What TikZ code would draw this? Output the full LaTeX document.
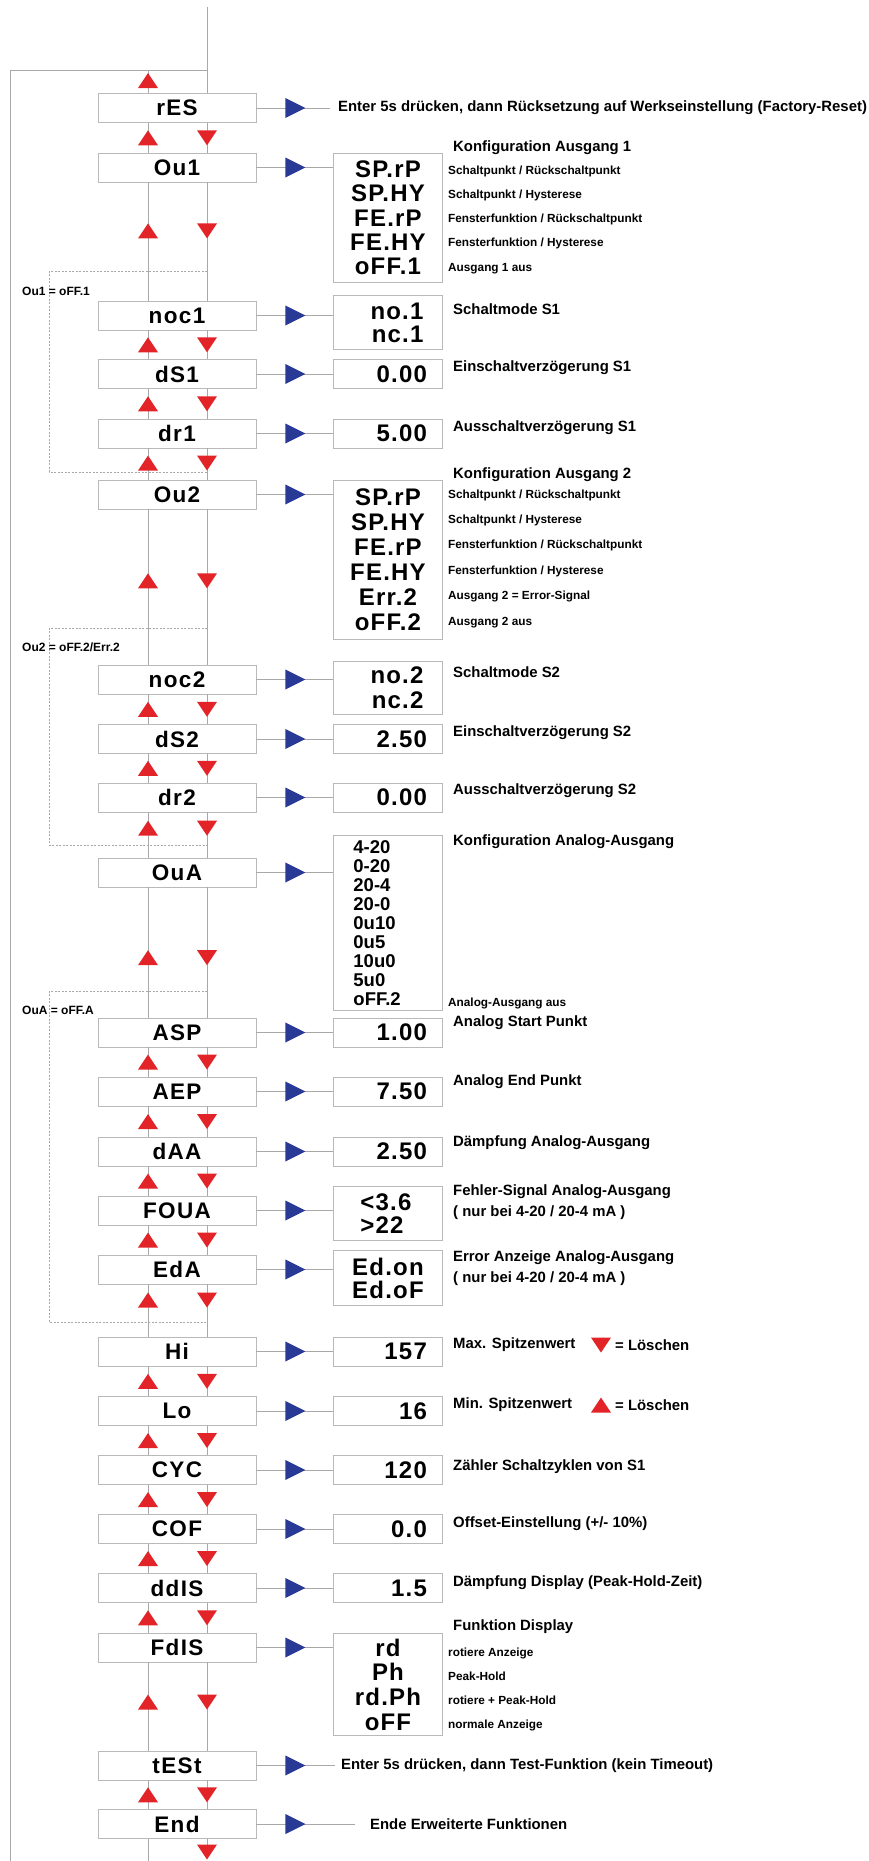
\documentclass[tikz,border=0pt]{standalone}
\usepackage{fontspec}
\setmainfont{Liberation Sans}
\newfontfamily\keyspaced[LetterSpace=6]{Liberation Sans}
\newfontfamily\valspaced[LetterSpace=5]{Liberation Sans}
\usetikzlibrary{positioning,calc}

\definecolor{linegray}{RGB}{168,168,168}
\definecolor{boxgray}{RGB}{185,185,185}
\definecolor{arrred}{RGB}{226,36,40}
\definecolor{arrblue}{RGB}{40,58,150}

\newcommand\keylabelfnt{\keyspaced\bfseries\fontsize{22.5}{24}\selectfont}
\newcommand\valuefnt{\valspaced\bfseries\fontsize{24}{25}\selectfont}

\begin{document}
\begin{tikzpicture}[x=1pt,y=1pt,
    wire/.style={draw=linegray,line width=0.9pt},
    bypass/.style={draw=linegray,line width=0.7pt,dash pattern=on 2pt off 1.5pt},
    key/.style={draw=boxgray,line width=0.9pt,fill=white,minimum width=158pt,
                minimum height=29pt,inner sep=0pt,font=\keylabelfnt},
    val/.style={draw=boxgray,line width=0.9pt,fill=white,minimum width=109pt,
                minimum height=29pt,inner sep=0pt,font=\valuefnt},
    num/.style={val,text width=77pt,align=right,inner xsep=16pt},
    list/.style={val,anchor=north west,align=center,font=\valuefnt\fontsize{24}{#1}\selectfont},
    head/.style={anchor=west,inner sep=0pt,align=left,font=\bfseries\fontsize{14.9}{21}\selectfont},
    note/.style={anchor=west,inner sep=0pt,align=left,font=\bfseries\fontsize{11.8}{#1}\selectfont},
    cond/.style={anchor=west,inner sep=0pt,font=\bfseries\fontsize{12}{13}\selectfont},
    pics/uptri/.style={code={\fill[arrred] (-10,-7.5) -- (10,-7.5) -- (0,7.5) -- cycle;}},
    pics/dntri/.style={code={\fill[arrred] (-10,7.5) -- (10,7.5) -- (0,-7.5) -- cycle;}},
    pics/flow/.style={code={\fill[arrblue] (-10,-10) -- (10,0) -- (-10,10) -- cycle;}}]

  \useasboundingbox (0,0) rectangle (868,-1861);

  % menu column
  \node[key] (rES)  at (177,-108)    {rES};
  \node[key] (Ou1)  at (177,-167.5)  {Ou1};
  \node[key] (noc1) at (177,-315.5)  {noc1};
  \node[key] (dS1)  at (177,-374)    {dS1};
  \node[key] (dr1)  at (177,-433.5)  {dr1};
  \node[key] (Ou2)  at (177,-494.5)  {Ou2};
  \node[key] (noc2) at (177,-679.5)  {noc2};
  \node[key] (dS2)  at (177,-739)    {dS2};
  \node[key] (dr2)  at (177,-797.5)  {dr2};
  \node[key] (OuA)  at (177,-872.5)  {OuA};
  \node[key] (ASP)  at (177,-1032.5) {ASP};
  \node[key] (AEP)  at (177,-1091.5) {AEP};
  \node[key] (dAA)  at (177,-1151.5) {dAA};
  \node[key] (FOUA) at (177,-1210.5) {FOUA};
  \node[key] (EdA)  at (177,-1269.5) {EdA};
  \node[key] (Hi)   at (177,-1351.5) {Hi};
  \node[key] (Lo)   at (177,-1411)   {Lo};
  \node[key] (CYC)  at (177,-1470)   {CYC};
  \node[key] (COF)  at (177,-1529)   {COF};
  \node[key] (ddIS) at (177,-1588)   {ddIS};
  \node[key] (FdIS) at (177,-1647.5) {FdIS};
  \node[key] (tESt) at (177,-1765.5) {tESt};
  \node[key] (End)  at (177,-1824)   {End};

  % value boxes
  \node[list=24.25, minimum height=129pt] (vOu1) at (333,-153) {SP.rP\\SP.HY\\FE.rP\\FE.HY\\oFF.1};
  \node[list=23, minimum height=54pt, text width=71pt, align=right, inner xsep=19pt] (vnoc1) at (333,-295) {no.1\\nc.1};
  \node[num, right=77pt of dS1] (vdS1) {0.00};
  \node[num, right=77pt of dr1] (vdr1) {5.00};
  \node[list=25, minimum height=159pt] (vOu2) at (333,-480) {SP.rP\\SP.HY\\FE.rP\\FE.HY\\Err.2\\oFF.2};
  \node[list=25, minimum height=53pt, text width=71pt, align=right, inner xsep=19pt] (vnoc2) at (333,-661) {no.2\\nc.2};
  \node[num, right=77pt of dS2] (vdS2) {2.50};
  \node[num, right=77pt of dr2] (vdr2) {0.00};
  \node[val, anchor=north west, minimum height=175pt, text width=69pt, inner xsep=20pt, align=left,
        font=\bfseries\fontsize{18.5}{19}\selectfont] (vOuA) at (333,-835)
        {4-20\\0-20\\20-4\\20-0\\0u10\\0u5\\10u0\\5u0\\oFF.2};
  \node[num, right=77pt of ASP] (vASP) {1.00};
  \node[num, right=77pt of AEP] (vAEP) {7.50};
  \node[num, right=77pt of dAA] (vdAA) {2.50};
  \node[list=23, minimum height=54pt, text width=55pt, align=left, inner xsep=27pt] (vFOUA) at (333,-1186) {<3.6\\>22};
  \node[list=23, minimum height=55pt] (vEdA) at (333,-1250) {Ed.on\\Ed.oF};
  \node[num, right=77pt of Hi]   (vHi)   {157};
  \node[num, right=77pt of Lo]   (vLo)   {16};
  \node[num, right=77pt of CYC]  (vCYC)  {120};
  \node[num, right=77pt of COF]  (vCOF)  {0.0};
  \node[num, right=77pt of ddIS] (vddIS) {1.5};
  \node[list=24.7, minimum height=102pt] (vFdIS) at (333,-1633) {rd\\Ph\\rd.Ph\\oFF};
  \coordinate (vrES)  at (330,-108);
  \coordinate (vtESt) at (335,-1765.5);
  \coordinate (vEnd)  at (355,-1824);

  % texts
  \node[head] (trES) at (338,-108) {Enter 5s drücken, dann Rücksetzung auf Werkseinstellung (Factory-Reset)};
  \node[head] (hOu1) at (453,-148) {Konfiguration Ausgang 1};
  \node[note=24.25] (nOu1) at (448,-219.5) {Schaltpunkt / Rückschaltpunkt\\Schaltpunkt / Hysterese\\Fensterfunktion / Rückschaltpunkt\\Fensterfunktion / Hysterese\\Ausgang 1 aus};
  \node[head] (hnoc1) at (453,-309)  {Schaltmode S1};
  \node[head] (hdS1)  at (453,-368)  {Einschaltverzögerung S1};
  \node[head] (hdr1)  at (453,-428)  {Ausschaltverzögerung S1};
  \node[head] (hOu2)  at (453,-475)  {Konfiguration Ausgang 2};
  \node[note=25.4] (nOu2) at (448,-558.5) {Schaltpunkt / Rückschaltpunkt\\Schaltpunkt / Hysterese\\Fensterfunktion / Rückschaltpunkt\\Fensterfunktion / Hysterese\\Ausgang 2 = Error-Signal\\Ausgang 2 aus};
  \node[head] (hnoc2) at (453,-672)  {Schaltmode S2};
  \node[head] (hdS2)  at (453,-733)  {Einschaltverzögerung S2};
  \node[head] (hdr2)  at (453,-791)  {Ausschaltverzögerung S2};
  \node[head] (hOuA)  at (453,-842)  {Konfiguration Analog-Ausgang};
  \node[note=13] (nOuA) at (448,-1003) {Analog-Ausgang aus};
  \node[head] (hASP)  at (453,-1023) {Analog Start Punkt};
  \node[head] (hAEP)  at (453,-1082) {Analog End Punkt};
  \node[head] (hdAA)  at (453,-1143) {Dämpfung Analog-Ausgang};
  \node[head] (hFOUA) at (453,-1202.5) {Fehler-Signal Analog-Ausgang\\( nur bei 4-20 / 20-4 mA )};
  \node[head] (hEdA)  at (453,-1268.5) {Error Anzeige Analog-Ausgang\\( nur bei 4-20 / 20-4 mA )};
  \node[head] (hHi)   at (453,-1345) {Max. Spitzenwert};
  \node[head] (xHi)   at (615,-1345) {= Löschen};
  \node[head] (hLo)   at (453,-1405) {Min. Spitzenwert};
  \node[head] (xLo)   at (615,-1405) {= Löschen};
  \node[head] (hCYC)  at (453,-1467) {Zähler Schaltzyklen von S1};
  \node[head] (hCOF)  at (453,-1524) {Offset-Einstellung (+/- 10\%)};
  \node[head] (hddIS) at (453,-1583) {Dämpfung Display (Peak-Hold-Zeit)};
  \node[head] (hFdIS) at (453,-1627) {Funktion Display};
  \node[note=24.3] (nFdIS) at (448,-1689.5) {rotiere Anzeige\\Peak-Hold\\rotiere + Peak-Hold\\normale Anzeige};
  \node[head] (ttESt) at (341,-1765.5) {Enter 5s drücken, dann Test-Funktion (kein Timeout)};
  \node[head] (tEnd)  at (370,-1824) {Ende Erweiterte Funktionen};
  \pic at (601,-1345) {dntri};
  \pic at (601,-1405) {uptri};

  % up / down between the menu items
  \foreach \a/\b/\f in {rES/Ou1/.5, Ou1/noc1/.41, noc1/dS1/.5, dS1/dr1/.5, dr1/Ou2/.47,
      Ou2/noc2/.46, noc2/dS2/.5, dS2/dr2/.5, dr2/OuA/.35, OuA/ASP/.54, ASP/AEP/.5,
      AEP/dAA/.5, dAA/FOUA/.5, FOUA/EdA/.5, EdA/Hi/.3, Hi/Lo/.5, Lo/CYC/.5, CYC/COF/.5,
      COF/ddIS/.5, ddIS/FdIS/.5, FdIS/tESt/.45, tESt/End/.5} {
    \draw[wire] ([xshift=-29pt]\a.south) -- ([xshift=-29pt]\b.north);
    \draw[wire] ([xshift=30pt]\a.south) -- ([xshift=30pt]\b.north);
    \pic at ($([xshift=-29pt]\a.south)!\f!([xshift=-29pt]\b.north)$) {uptri};
    \pic at ($([xshift=30pt]\a.south)!\f!([xshift=30pt]\b.north)$) {dntri};
  }

  % enter
  \foreach \k in {rES,Ou1,noc1,dS1,dr1,Ou2,noc2,dS2,dr2,OuA,ASP,AEP,dAA,FOUA,EdA,
      Hi,Lo,CYC,COF,ddIS,FdIS,tESt,End} {
    \draw[wire] (\k.east) -- (\k.east -| v\k.west);
    \pic at ([xshift=39pt]\k.east) {flow};
  }

  % top and bottom, loop back
  \coordinate (entry) at (207,-7);
  \coordinate (back)  at (207,-70);
  \coordinate (foot)  at (10,-1861);
  \draw[wire] ([xshift=30pt]rES.north) -- (entry);
  \draw[wire] ([xshift=-29pt]rES.north) -- ++(0,23.5);
  \draw[wire] (back) -| (foot);
  \pic at (148,-80.5) {uptri};
  \draw[wire] ([xshift=-29pt]End.south) -- ++(0,-23);
  \draw[wire] ([xshift=30pt]End.south) -- ++(0,-8);
  \pic at (207,-1852) {dntri};

  % skipped when output is off
  \coordinate (s1a) at (207,-271);   \coordinate (s1b) at (207,-472);
  \coordinate (s2a) at (207,-628);   \coordinate (s2b) at (207,-845);
  \coordinate (s3a) at (207,-991);   \coordinate (s3b) at (207,-1322);
  \draw[bypass] (s1a) -- ++(-158,0) |- (s1b);
  \draw[bypass] (s2a) -- ++(-158,0) |- (s2b);
  \draw[bypass] (s3a) -- ++(-158,0) |- (s3b);
  \node[cond] (c1) at (22,-291)  {Ou1 = oFF.1};
  \node[cond] (c2) at (22,-647)  {Ou2 = oFF.2/Err.2};
  \node[cond] (c3) at (22,-1010) {OuA = oFF.A};
\end{tikzpicture}
\end{document}
